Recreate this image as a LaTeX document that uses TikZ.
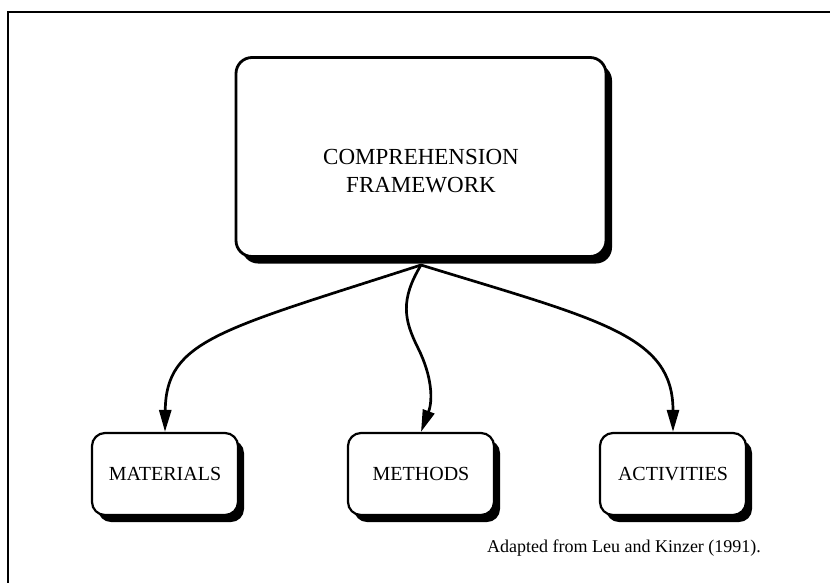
\documentclass[tikz,border=0pt]{standalone}
\usepackage{fontspec}
\setmainfont{Liberation Serif}
\usetikzlibrary{arrows.meta,shadows}

\begin{document}
\begin{tikzpicture}[x=1pt, y=-1pt,
    box/.style={draw, line width=2.2pt, fill=white, rounded corners=13pt,
      drop shadow={fill=black, opacity=1, shadow xshift=6pt, shadow yshift=-7pt},
      minimum width=146pt, minimum height=82pt, inner sep=0pt,
      font=\fontsize{20}{24}\selectfont},
    bigbox/.style={box, line width=2.8pt, rounded corners=16pt,
      minimum width=370pt, minimum height=199pt},
    link/.style={line width=2.7pt, -{Triangle[length=22pt, width=12pt]}}]
    \useasboundingbox (0,0) rectangle (830,582);
    % outer frame, runs off the page on the right and at the bottom
    \draw[line width=1.5pt] (8,600) -- (8,12) -- (840,12);

    \node[bigbox] (frame) at (421,157) {};
    \node[align=center, font=\fontsize{23}{28}\selectfont] (frametext) at (421,171)
      {COMPREHENSION\\FRAMEWORK};

    \node[box] (mat) at (165,474) {MATERIALS};
    \node[box] (meth) at (421,474) {METHODS};
    \node[box] (act) at (673,474) {ACTIVITIES};

    \coordinate (top) at (421,265);
    \draw[link] (top) .. controls (220,330) and (166,340) .. (mat.north);
    \draw[link] (top) .. controls (400,300) and (404,320) .. (418,348)
      .. controls (432,376) and (433,400) .. (meth.north);
    \draw[link] (top) .. controls (600,320) and (673,335) .. (act.north);

    \node[font=\fontsize{18}{22}\selectfont] (source) at (624,548)
      {Adapted from Leu and Kinzer (1991).};
\end{tikzpicture}
\end{document}
